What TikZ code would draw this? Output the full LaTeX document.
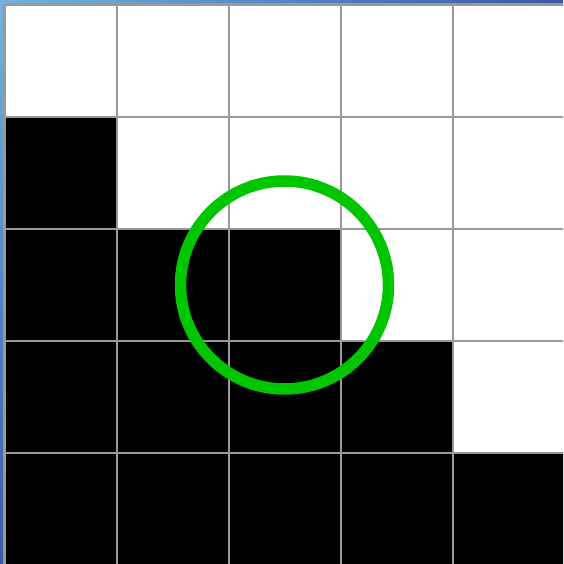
\documentclass[tikz,border=0pt]{standalone}
\usetikzlibrary{shadings}
\definecolor{gridgray}{HTML}{999999}
\definecolor{ringgreen}{HTML}{00C600}
\definecolor{bgA}{HTML}{70B4DC}
\definecolor{bgB}{HTML}{3A58A8}
\begin{document}
\begin{tikzpicture}[x=1pt,y=-1pt,
  cellblack/.style={fill=black},
  gridline/.style={draw=gridgray,line width=2pt},
  ring/.style={draw=ringgreen,line width=11.5pt}]
\useasboundingbox (0,0) rectangle (563,564);
\begin{scope}
\clip (0,0) rectangle (563,564);
\fill[white] (3,3) rectangle (570,570);
\shade[left color=bgA,right color=bgB] (0,0) rectangle (563,4);
\shade[top color=bgA,bottom color=bgB] (0,0) rectangle (4,564);
% black cells
\fill[cellblack] (5,117) rectangle (117,229);
\fill[cellblack] (5,229) rectangle (341,341);
\fill[cellblack] (5,341) rectangle (453,453);
\fill[cellblack] (5,453) rectangle (570,570);
% grid
\foreach \v in {5,117,229,341,453} {
  \draw[gridline] (\v,5) -- (\v,570);
  \draw[gridline] (5,\v) -- (570,\v);
}
\draw[gridgray,line width=3pt] (4.5,4.5) -- (570,4.5);
\draw[gridgray,line width=3pt] (4.5,4.5) -- (4.5,570);
\end{scope}
% ring
\node[ring,circle,minimum size=208pt,inner sep=0pt] (c) at (284.5,285) {};
\end{tikzpicture}
\end{document}
